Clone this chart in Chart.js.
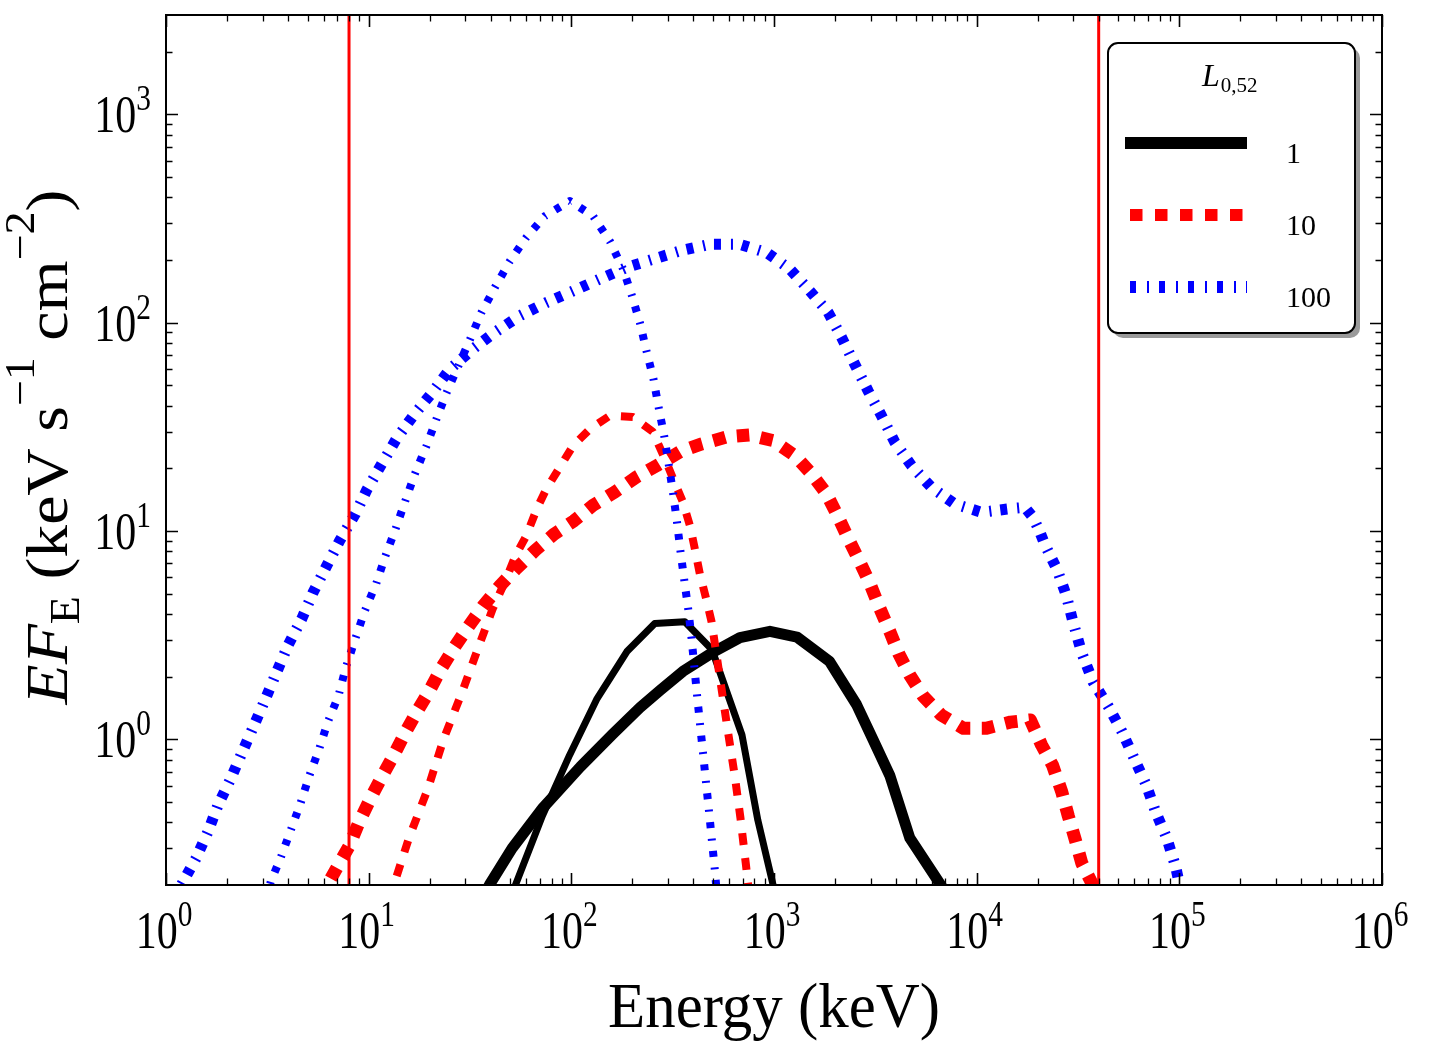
<!DOCTYPE html>
<html>
<head>
<meta charset="utf-8">
<script src="https://cdn.jsdelivr.net/npm/chart.js@4.4.1/dist/chart.umd.min.js"></script>
<style>
  html, body { margin: 0; padding: 0; background: #fff; }
  #wrap { width: 1431px; height: 1056px; }
</style>
</head>
<body>
<div id="wrap"><canvas id="spec" width="1431" height="1056"></canvas></div>
<script>
// axis ticks (keV on x, keV s^-1 cm^-2 on y)
const xTicks = [1, 10, 100, 1e3, 1e4, 1e5, 1e6];
const xExps = ['0', '1', '2', '3', '4', '5', '6'];
const yTicks = [1, 10, 100, 1000];
const yExps = ['0', '1', '2', '3'];
const bandEdges = [8, 40000];            // red vertical lines
const legendLabels = ['1', '10', '100'];  // L_{0,52}

// L = 1 (black)
const eBlackNarrow = [50, 53, 72, 98, 134, 188, 258, 363, 494, 695, 832, 990, 1020];
const fBlackNarrow = [0.17, 0.2, 0.43, 0.84, 1.57, 2.64, 3.6, 3.67, 2.7, 1.05, 0.41, 0.2, 0.17];
const eBlackBroad = [36, 39.4, 51, 72.5, 111, 160, 218, 274, 355, 500, 679, 955, 1297, 1879, 2553, 3077, 3730, 4680, 6650, 7400];
const fBlackBroad = [0.17, 0.2, 0.30, 0.47, 0.74, 1.06, 1.42, 1.72, 2.12, 2.62, 3.08, 3.3, 3.1, 2.37, 1.47, 1.0, 0.67, 0.336, 0.2, 0.17];

// L = 10 (red)
const eRedNarrow = [12.6, 13.3, 15.8, 19.6, 23.4, 29, 34.6, 41, 47, 53, 60, 67.6, 75.5, 102, 124, 155, 201, 252, 291, 318, 355, 385, 407, 431, 461, 492, 535, 586, 640, 683, 727, 760];
const fRedNarrow = [0.17, 0.2, 0.336, 0.58, 1.0, 1.70, 2.73, 4.25, 5.7, 7.6, 9.5, 12.8, 16, 25.7, 31, 35.8, 35.3, 30, 22, 17.8, 13.8, 10.6, 8.2, 6.2, 4.8, 3.67, 2.12, 1.17, 0.67, 0.42, 0.25, 0.17];
const eRedBroad = [5.7, 7.1, 8.05, 8.96, 10.2, 11.6, 13.3, 15.1, 17.3, 20, 22.8, 26.6, 31, 36.9, 44, 53.5, 66.5, 82.6, 103, 128, 164, 210, 264, 343, 440, 583, 760, 988, 1268, 1531, 1816, 2073, 2324, 2652, 2974, 3280, 3730, 4125, 4680, 5450, 6680, 8610, 11100, 14660, 18400, 20900, 23700, 26300, 28300, 30500, 33000, 37400, 40500];
const fRedBroad = [0.17, 0.25, 0.31, 0.40, 0.52, 0.66, 0.84, 1.07, 1.36, 1.72, 2.19, 2.79, 3.47, 4.4, 5.4, 6.6, 8.1, 9.7, 11.2, 13.3, 15.4, 18.2, 20.6, 24, 26.2, 28.3, 28.9, 27.2, 23, 18.8, 15.1, 11.7, 9.2, 7.1, 5.6, 4.4, 3.29, 2.58, 2.03, 1.61, 1.31, 1.13, 1.13, 1.21, 1.24, 0.94, 0.75, 0.56, 0.43, 0.336, 0.255, 0.2, 0.16];

// L = 100 (blue)
const eBlueNarrow = [3.1, 3.3, 3.68, 4.1, 4.6, 5.1, 5.7, 6.3, 7.1, 7.7, 8.6, 9.6, 10.9, 12.1, 13.6, 15.1, 16.9, 19.3, 21.6, 24.2, 27.7, 31.6, 36, 42, 49.8, 60, 74, 98.4, 128, 155, 180, 198, 218, 235, 254, 270, 288, 303, 318, 332, 345, 360, 378, 392, 405, 418, 432, 447, 462, 478, 495, 512, 525];
const fBlueNarrow = [0.17, 0.21, 0.27, 0.36, 0.49, 0.67, 0.9, 1.22, 1.62, 2.2, 3.05, 4.17, 5.6, 7.6, 10.3, 13.8, 18.8, 25.7, 34.5, 46, 62, 83, 112, 148, 198, 257, 325, 384, 325, 246, 181, 137, 100, 73, 54, 39, 28.2, 20.6, 15.1, 11.1, 8.1, 5.9, 4.17, 3.05, 2.2, 1.6, 1.17, 0.85, 0.62, 0.45, 0.32, 0.23, 0.17];
const eBlueBroad = [1.1, 1.19, 1.41, 1.61, 1.8, 2.09, 2.38, 2.72, 3.1, 3.52, 4.0, 4.68, 5.33, 6.2, 7.2, 8.6, 9.8, 11.6, 13.7, 16.6, 20.5, 25.2, 32.8, 42, 55.7, 75.5, 102, 138, 187, 254, 343, 483, 679, 920, 1197, 1503, 1852, 2155, 2507, 2915, 3390, 3946, 4768, 5980, 7800, 10570, 14590, 17300, 19000, 20500, 21700, 25000, 27700, 29800, 33000, 37500, 44800, 52100, 59200, 68900, 76300, 86700, 95900, 104000];
const fBlueBroad = [0.17, 0.2, 0.27, 0.36, 0.48, 0.65, 0.87, 1.17, 1.57, 2.11, 2.83, 3.8, 5.1, 6.8, 9.0, 12.1, 15.8, 21, 27.7, 35.8, 46, 60, 75, 90, 108, 125, 142, 162, 184, 202, 221, 238, 238, 217, 181, 142, 112, 85, 63, 47, 35.8, 26.7, 20.6, 16.2, 13.5, 12.3, 12.8, 13.0, 11.6, 9.9, 8.6, 6.5, 4.9, 3.7, 2.6, 1.89, 1.43, 1.09, 0.83, 0.6, 0.45, 0.336, 0.245, 0.17];

const SERIF = '"Liberation Serif", "Times New Roman", serif';
const DASH_RED_N = [12, 13], DASH_RED_B = [12.5, 11.5];
const DASH_BLUE_N = [6, 10.5, 2, 10.5], DASH_BLUE_B = [7, 10, 2, 9];

function pts(es, fs) { return es.map((e, i) => ({ x: e, y: fs[i] })); }

function curve(es, fs, color, width, dash) {
    return {
        data: pts(es, fs), borderColor: color, borderWidth: width, borderDash: dash,
        borderJoinStyle: 'round', borderCapStyle: 'butt', pointRadius: 0, tension: 0, clip: 0, fill: false
    };
}

const datasets = [
    ...bandEdges.map(e => curve([e, e], [0.1, 10000], '#ff0000', 3, [])),
    curve(eBlueNarrow, fBlueNarrow, '#0000ff', 8, DASH_BLUE_N),
    curve(eBlueBroad, fBlueBroad, '#0000ff', 11, DASH_BLUE_B),
    curve(eRedNarrow, fRedNarrow, '#ff0000', 8, DASH_RED_N),
    curve(eRedBroad, fRedBroad, '#ff0000', 13, DASH_RED_B),
    curve(eBlackNarrow, fBlackNarrow, '#000000', 7, []),
    curve(eBlackBroad, fBlackBroad, '#000000', 11, [])
];

// text made of runs: normal / sub / sup pieces
function runFont(r, size) {
    const s = r.kind ? size * 0.7 : size;
    return (r.italic ? 'italic ' : '') + s.toFixed(1) + 'px ' + SERIF;
}
function runsWidth(ctx, runs, size) {
    let w = 0;
    runs.forEach(r => { ctx.font = runFont(r, size); w += ctx.measureText(r.t).width; });
    return w;
}
function drawRuns(ctx, runs, size, x, y, supShift) {
    runs.forEach(r => {
        ctx.font = runFont(r, size);
        let dy = 0;
        if (r.kind === 'sup') dy = -size * supShift;
        if (r.kind === 'sub') dy = size * 0.2;
        ctx.fillText(r.t, x, y + dy);
        x += ctx.measureText(r.t).width;
    });
}

const axesFrame = {
    id: 'axesFrame',
    afterDatasetsDraw(chart) {
        const { ctx, chartArea: a, scales: { x, y } } = chart;
        ctx.save();
        ctx.strokeStyle = '#000';
        ctx.fillStyle = '#000';

        // inward ticks on all four sides
        const xTick = (v, len) => {
            const px = Math.round(x.getPixelForValue(v)) + 0.5;
            ctx.beginPath();
            ctx.moveTo(px, a.bottom); ctx.lineTo(px, a.bottom - len);
            ctx.moveTo(px, a.top); ctx.lineTo(px, a.top + len);
            ctx.stroke();
        };
        const yTick = (v, len) => {
            const py = Math.round(y.getPixelForValue(v)) + 0.5;
            ctx.beginPath();
            ctx.moveTo(a.left, py); ctx.lineTo(a.left + len, py);
            ctx.moveTo(a.right, py); ctx.lineTo(a.right - len, py);
            ctx.stroke();
        };
        ctx.lineWidth = 1.3;
        xTicks.slice(0, -1).forEach(d => { for (let m = 2; m < 10; m++) xTick(d * m, 6.5); });
        [0.1].concat(yTicks).forEach(d => {
            for (let m = 2; m < 10; m++) { const v = d * m; if (v > y.min && v < y.max) yTick(v, 6.5); }
        });
        ctx.lineWidth = 1.6;
        xTicks.forEach(v => xTick(v, 12));
        yTicks.forEach(v => yTick(v, 12));

        ctx.lineWidth = 2;
        ctx.strokeRect(a.left, a.top, a.right - a.left, a.bottom - a.top);

        // tick labels 10^n, stretched a bit vertically like the source
        const TS = 42, STRETCH = 1.25;
        ctx.textBaseline = 'alphabetic';
        ctx.textAlign = 'left';
        xTicks.forEach((v, i) => {
            const runs = [{ t: '10' }, { t: xExps[i], kind: 'sup' }];
            const w = runsWidth(ctx, runs, TS);
            ctx.save();
            ctx.translate(x.getPixelForValue(v) - w / 2 - 2, 948);
            ctx.scale(1, STRETCH);
            drawRuns(ctx, runs, TS, 0, 0, 0.42);
            ctx.restore();
        });
        yTicks.forEach((v, i) => {
            const runs = [{ t: '10' }, { t: yExps[i], kind: 'sup' }];
            const w = runsWidth(ctx, runs, TS);
            ctx.save();
            ctx.translate(151 - w, y.getPixelForValue(v) + 18);
            ctx.scale(1, STRETCH);
            drawRuns(ctx, runs, TS, 0, 0, 0.42);
            ctx.restore();
        });

        // x title
        const xRuns = [{ t: 'Energy (keV)' }];
        const xw = runsWidth(ctx, xRuns, 60);
        ctx.save();
        ctx.translate(774, 1027);
        ctx.scale(332 / xw, 1.05);
        drawRuns(ctx, xRuns, 60, -xw / 2, 0, 0.5);
        ctx.restore();

        // y title
        const yRuns = [
            { t: 'E', italic: true }, { t: 'F', italic: true }, { t: 'E', kind: 'sub' },
            { t: ' (keV s' }, { t: '\u22121', kind: 'sup' }, { t: ' cm' }, { t: '\u22122', kind: 'sup' }, { t: ')' }
        ];
        const yw = runsWidth(ctx, yRuns, 60);
        ctx.save();
        ctx.translate(67, 447);
        ctx.rotate(-Math.PI / 2);
        ctx.scale(515 / yw, 1);
        drawRuns(ctx, yRuns, 60, -yw / 2, 0, 0.55);
        ctx.restore();

        ctx.restore();
    }
};

const legendBox = {
    id: 'legendBox',
    afterDraw(chart) {
        const ctx = chart.ctx;
        const bx = 1108, by = 43, bw = 247, bh = 290;
        ctx.save();
        ctx.fillStyle = '#9a9a9a';
        ctx.beginPath(); ctx.roundRect(bx + 5, by + 5, bw, bh, 10); ctx.fill();
        ctx.fillStyle = '#fff';
        ctx.strokeStyle = '#000';
        ctx.lineWidth = 2;
        ctx.beginPath(); ctx.roundRect(bx, by, bw, bh, 10); ctx.fill(); ctx.stroke();

        ctx.fillStyle = '#000';
        ctx.textAlign = 'left';
        ctx.textBaseline = 'alphabetic';
        ctx.font = 'italic 32px ' + SERIF;
        ctx.fillText('L', 1202, 86);
        const lw = ctx.measureText('L').width;
        ctx.font = '21px ' + SERIF;
        ctx.fillText('0,52', 1202 + lw + 1, 92);

        const samples = [
            { y: 143, color: '#000000', dash: [], off: 0 },
            { y: 215, color: '#ff0000', dash: [12.5, 12.5], off: 20 },
            { y: 287, color: '#0000ff', dash: [6, 11, 2, 10], off: 24 }
        ];
        ctx.lineCap = 'butt';
        samples.forEach((s, i) => {
            ctx.strokeStyle = s.color;
            ctx.lineWidth = 12;
            ctx.setLineDash(s.dash);
            ctx.lineDashOffset = s.off;
            ctx.beginPath(); ctx.moveTo(1125, s.y); ctx.lineTo(1247, s.y); ctx.stroke();
            ctx.setLineDash([]);
            ctx.font = '30px ' + SERIF;
            ctx.fillText(legendLabels[i], 1286, s.y + 20);
        });
        ctx.restore();
    }
};

new Chart(document.getElementById('spec'), {
    type: 'line',
    data: { datasets },
    options: {
        responsive: false,
        animation: false,
        devicePixelRatio: 1,
        layout: { padding: { left: 166, right: 49, top: 15, bottom: 171 } },
        scales: {
            x: { type: 'logarithmic', min: 1, max: 1e6, display: false },
            y: { type: 'logarithmic', min: 0.2, max: 3000, display: false }
        },
        plugins: { legend: { display: false }, tooltip: { enabled: false } },
        elements: { point: { radius: 0 } }
    },
    plugins: [axesFrame, legendBox]
});
</script>
</body>
</html>
